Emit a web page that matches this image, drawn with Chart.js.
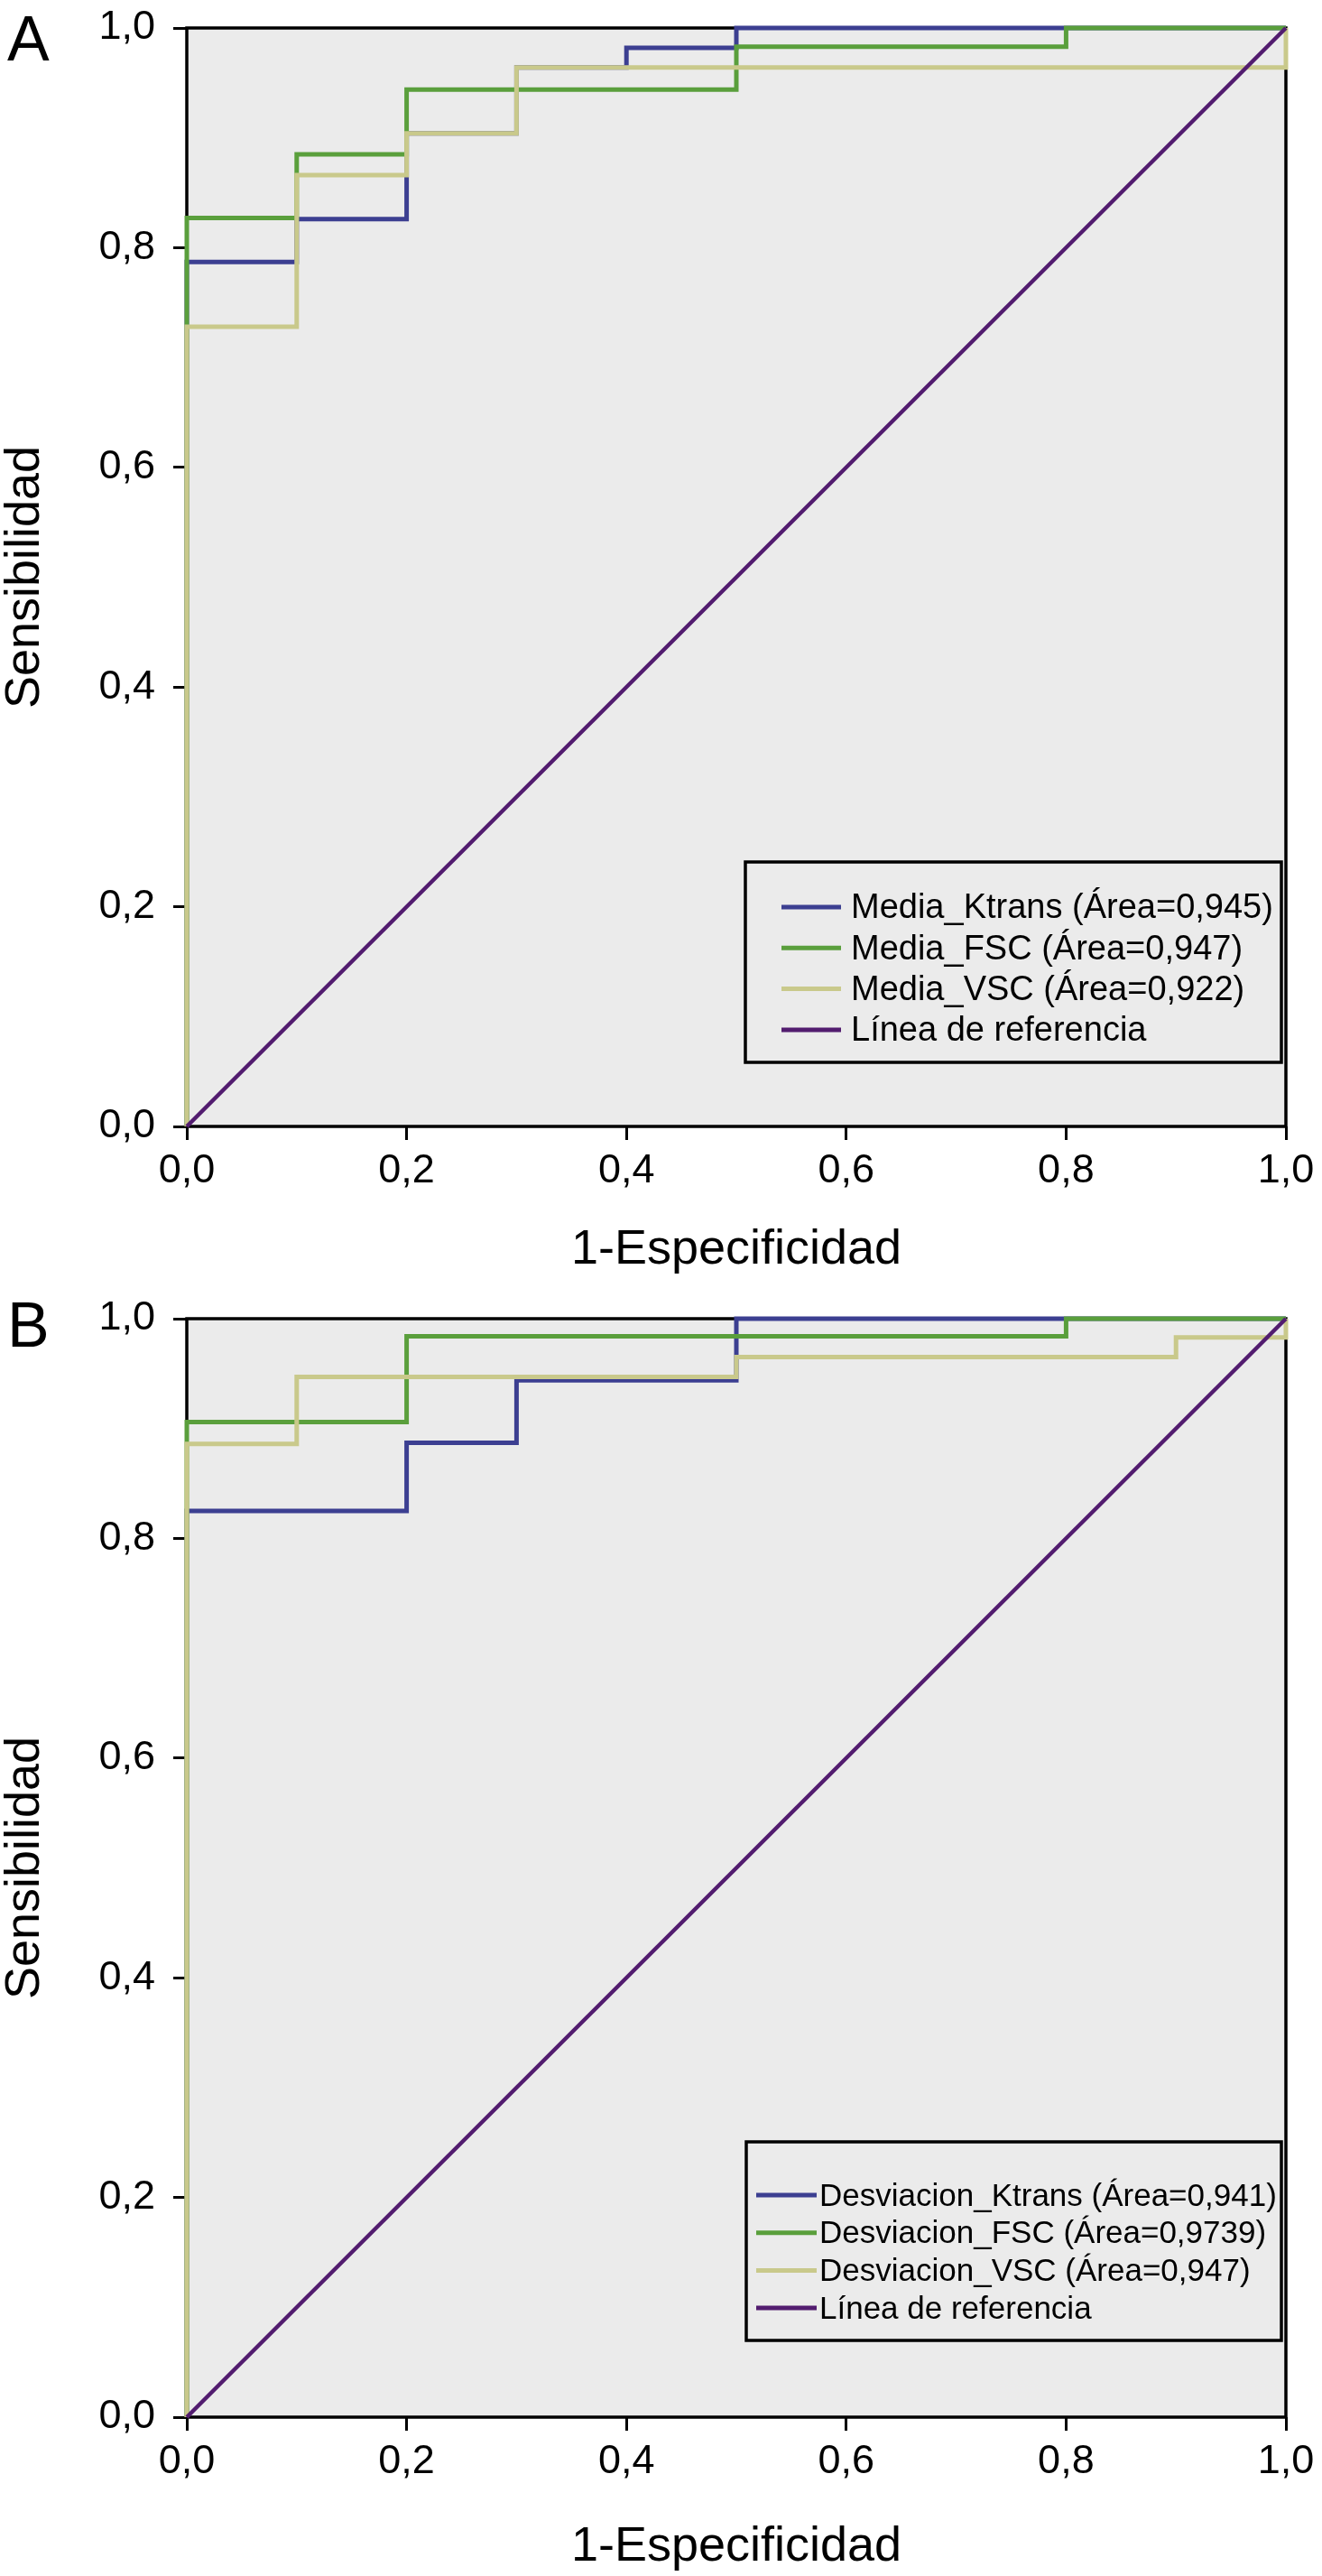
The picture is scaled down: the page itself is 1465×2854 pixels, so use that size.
<!DOCTYPE html>
<html>
<head>
<meta charset="utf-8">
<script src="https://cdn.jsdelivr.net/npm/chart.js@4.4.1/dist/chart.umd.min.js"></script>
<style>
body { margin: 0; background: #fff; width: 1465px; height: 2854px; position: relative; font-family: "Liberation Sans", Arial, sans-serif; }
canvas { position: absolute; left: 0; }
.panel { position: absolute; left: 8px; font-size: 70px; line-height: 70px; color: #000; }
</style>
</head>
<body>
<div class="panel" style="top:8px">A</div>
<div class="panel" style="top:1433px">B</div>
<canvas id="chartA" width="1465" height="1424" style="top:0;width:1465px;height:1424px"></canvas>
<canvas id="chartB" width="1465" height="1424" style="top:1430px;width:1465px;height:1424px"></canvas>
<script>
// ticks
const tickValues = [0, 0.2, 0.4, 0.6, 0.8, 1.0];
const tickLabels = ['0,0', '0,2', '0,4', '0,6', '0,8', '1,0'];

// panel A - Media
const mediaKtransX = [0, 0, 0.1, 0.2, 0.3, 0.4, 0.5, 1.0];
const mediaKtransY = [0, 0.787, 0.826, 0.904, 0.964, 0.982, 1.0, 1.0];
const mediaFscX = [0, 0, 0.1, 0.2, 0.5, 0.8, 1.0];
const mediaFscY = [0, 0.827, 0.885, 0.944, 0.983, 1.0, 1.0];
const mediaVscX = [0, 0, 0.1, 0.2, 0.3, 1.0, 1.0];
const mediaVscY = [0, 0.728, 0.866, 0.904, 0.964, 0.964, 1.0];

// panel B - Desviacion
const desvKtransX = [0, 0, 0.2, 0.3, 0.5, 1.0];
const desvKtransY = [0, 0.825, 0.887, 0.944, 1.0, 1.0];
const desvFscX = [0, 0, 0.2, 0.8, 1.0];
const desvFscY = [0, 0.906, 0.984, 1.0, 1.0];
const desvVscX = [0, 0, 0.1, 0.5, 0.9, 1.0];
const desvVscY = [0, 0.886, 0.947, 0.965, 0.983, 1.0];

// reference line
const refX = [0, 1];
const refY = [0, 1];

const labelsA = ['Media_Ktrans (Área=0,945)', 'Media_FSC (Área=0,947)', 'Media_VSC (Área=0,922)', 'Línea de referencia'];
const labelsB = ['Desviacion_Ktrans (Área=0,941)', 'Desviacion_FSC (Área=0,9739)', 'Desviacion_VSC (Área=0,947)', 'Línea de referencia'];

const colors = ['#3c3f91', '#5a9f3c', '#c9c98b', '#521c6f'];

Chart.defaults.font.family = "'Liberation Sans', Arial, sans-serif";
Chart.defaults.color = '#000';

function pts(xs, ys) {
    return xs.map(function (x, i) { return { x: x, y: ys[i] }; });
}

const frame = {
    id: 'frame',
    beforeDraw(chart) {
        const a = chart.chartArea, ctx = chart.ctx;
        ctx.save();
        ctx.fillStyle = '#ebebeb';
        ctx.fillRect(a.left, a.top, a.right - a.left, a.bottom - a.top);
        ctx.restore();
    },
    beforeDatasetsDraw(chart) {
        const a = chart.chartArea, ctx = chart.ctx;
        ctx.save();
        ctx.strokeStyle = '#000';
        ctx.lineWidth = 3.5;
        ctx.strokeRect(a.left, a.top, a.right - a.left, a.bottom - a.top);
        ctx.restore();
    }
};

const rocLegend = {
    id: 'rocLegend',
    afterDatasetsDraw(chart, args, o) {
        const ctx = chart.ctx;
        ctx.save();
        ctx.fillStyle = '#ebebeb';
        ctx.fillRect(o.x, o.y, o.w, o.h);
        ctx.strokeStyle = '#000';
        ctx.lineWidth = 3.5;
        ctx.strokeRect(o.x, o.y, o.w, o.h);
        ctx.font = o.fontSize + "px 'Liberation Sans', Arial, sans-serif";
        ctx.textBaseline = 'middle';
        chart.data.datasets.forEach(function (ds, i) {
            const y = o.firstRow + i * o.rowGap;
            ctx.strokeStyle = ds.borderColor;
            ctx.lineWidth = 5;
            ctx.beginPath();
            ctx.moveTo(o.lineX0, y);
            ctx.lineTo(o.lineX1, y);
            ctx.stroke();
            ctx.fillStyle = '#000';
            ctx.fillText(ds.label, o.textX, y + 2);
        });
        ctx.restore();
    }
};

function makeChart(id, series, labels, legendOpts, titlePad) {
    const datasets = series.map(function (s, i) {
        const isRef = i === 3;
        return {
            label: labels[i],
            data: pts(s[0], s[1]),
            borderColor: colors[i],
            backgroundColor: colors[i],
            borderWidth: isRef ? 4.5 : 5,
            pointRadius: 0,
            pointHoverRadius: 0,
            stepped: isRef ? false : 'before',
            fill: false,
            clip: 6,
            order: [3, 2, 1, 0][i]
        };
    });

    return new Chart(document.getElementById(id), {
        type: 'line',
        data: { datasets: datasets },
        options: {
            responsive: false,
            animation: false,
            devicePixelRatio: 1,
            layout: { autoPadding: false, padding: { top: 31, right: 40, left: 0, bottom: 0 } },
            plugins: {
                legend: { display: false },
                tooltip: { enabled: false },
                rocLegend: legendOpts
            },
            scales: {
                x: {
                    type: 'linear',
                    min: 0,
                    max: 1,
                    afterBuildTicks: function (scale) {
                        scale.ticks = tickValues.map(function (v) { return { value: v }; });
                    },
                    afterFit: function (scale) {
                        scale.height = 176;
                        scale.paddingLeft = 0;
                        scale.paddingRight = 0;
                    },
                    border: { display: false },
                    grid: { drawOnChartArea: false, drawTicks: true, tickLength: 15, tickWidth: 3, tickColor: '#000' },
                    ticks: {
                        font: { size: 45, lineHeight: 1 },
                        padding: 12,
                        maxRotation: 0,
                        callback: function (v, i) { return tickLabels[i]; }
                    },
                    title: {
                        display: true,
                        text: '1-Especificidad',
                        font: { size: 54, lineHeight: 1 },
                        padding: { top: 0, bottom: titlePad }
                    }
                },
                y: {
                    type: 'linear',
                    min: 0,
                    max: 1,
                    afterBuildTicks: function (scale) {
                        scale.ticks = tickValues.map(function (v) { return { value: v }; });
                    },
                    afterFit: function (scale) {
                        scale.width = 207;
                        scale.paddingTop = 0;
                        scale.paddingBottom = 0;
                    },
                    border: { display: false },
                    grid: { drawOnChartArea: false, drawTicks: true, tickLength: 15, tickWidth: 3, tickColor: '#000' },
                    ticks: {
                        font: { size: 45, lineHeight: 1 },
                        padding: 20,
                        callback: function (v, i) { return tickLabels[i]; }
                    },
                    title: {
                        display: true,
                        text: 'Sensibilidad',
                        font: { size: 54, lineHeight: 1 },
                        padding: { top: 1, bottom: 0 }
                    }
                }
            }
        },
        plugins: [frame, rocLegend]
    });
}

makeChart('chartA',
    [[mediaKtransX, mediaKtransY], [mediaFscX, mediaFscY], [mediaVscX, mediaVscY], [refX, refY]],
    labelsA,
    { x: 826, y: 955, w: 594, h: 222, firstRow: 1005, rowGap: 45.3, lineX0: 866, lineX1: 932, textX: 943, fontSize: 38 },
    12);

makeChart('chartB',
    [[desvKtransX, desvKtransY], [desvFscX, desvFscY], [desvVscX, desvVscY], [refX, refY]],
    labelsB,
    { x: 827, y: 943, w: 593, h: 220, firstRow: 1002, rowGap: 41.7, lineX0: 838, lineX1: 905, textX: 908, fontSize: 35 },
    5);
</script>
</body>
</html>
